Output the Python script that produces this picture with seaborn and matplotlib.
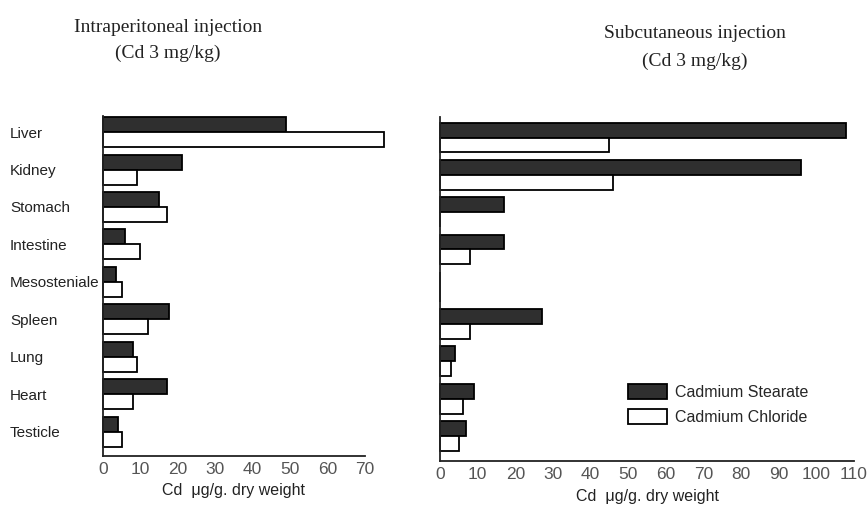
import matplotlib
matplotlib.use("Agg")
import matplotlib.pyplot as plt
import seaborn as sns
import pandas as pd

organs = ["Liver", "Kidney", "Stomach", "Intestine", "Mesosteniale",
          "Spleen", "Lung", "Heart", "Testicle"]
series = ["Cadmium Stearate", "Cadmium Chloride"]

ip_stearate = [49, 21, 15, 6, 3.5, 17.5, 8, 17, 4]
ip_chloride = [75, 9, 17, 10, 5, 12, 9, 8, 5]
sc_stearate = [108, 96, 17, 17, 0, 27, 4, 9, 7]
sc_chloride = [45, 46, 0, 8, 0, 8, 3, 6, 5]

left_ticks = [0, 10, 20, 30, 40, 50, 60, 70]
right_ticks = [0, 10, 20, 30, 40, 50, 60, 70, 80, 90, 100, 110]

left_title = ["Intraperitoneal injection", "(Cd 3 mg/kg)"]
right_title = ["Subcutaneous injection", "(Cd 3 mg/kg)"]
xlabel = "Cd  μg/g. dry weight"


def make_df(st, ch):
    return pd.DataFrame({
        "organ": organs * 2,
        "value": list(st) + list(ch),
        "series": [series[0]] * len(organs) + [series[1]] * len(organs),
    })


sns.set_theme(style="white")
sans = ["Liberation Sans", "DejaVu Sans"]
serif = ["Liberation Serif", "DejaVu Serif"]
plt.rcParams["font.family"] = sans

palette = {series[0]: "#2f2f2f", series[1]: "white"}

fig = plt.figure(figsize=(8.67, 5.05), dpi=100)
axL = fig.add_axes([103 / 867, 1 - 456 / 505, 262 / 867, (456 - 116) / 505])
axR = fig.add_axes([440 / 867, 1 - 461 / 505, 414 / 867, (461 - 117) / 505])

for ax, st, ch, ticks, ylim in [
    (axL, ip_stearate, ip_chloride, left_ticks, (8.65, -0.43)),
    (axR, sc_stearate, sc_chloride, right_ticks, (8.67, -0.55)),
]:
    sns.barplot(data=make_df(st, ch), y="organ", x="value", hue="series",
                order=organs, hue_order=series, palette=palette,
                edgecolor="black", linewidth=1.3, width=0.8,
                orient="h", ax=ax, legend=(ax is axR))
    for p in ax.patches:
        p.set_clip_on(False)
    ax.set_xlim(ticks[0], ticks[-1])
    ax.set_ylim(*ylim)
    ax.set_xticks(ticks)
    ax.set_xticklabels([str(t) for t in ticks], fontsize=12.5, color="#555555",
                       family=sans)
    ax.tick_params(axis="x", direction="in", length=5, width=1, color="#333333",
                   pad=4)
    ax.tick_params(axis="y", length=0)
    sns.despine(ax=ax)
    for s in ["left", "bottom"]:
        ax.spines[s].set_color("#222222")
        ax.spines[s].set_linewidth(1.3)
    ax.set_xlabel(xlabel, fontsize=11.5, color="#222222", labelpad=5,
                  family=sans)
    ax.set_ylabel("")

axL.set_yticks(range(len(organs)))
axL.set_yticklabels(organs, fontsize=11, color="#222222", ha="left",
                    family=sans)
axL.tick_params(axis="y", pad=67)
axR.set_yticks([])

leg = axR.legend(loc="upper left", bbox_to_anchor=(0.42, 0.265), frameon=False,
                 fontsize=11.5, handlelength=2.4, handleheight=1.0,
                 labelspacing=0.6, handletextpad=0.5)
for h in leg.legend_handles:
    h.set_edgecolor("black")
    h.set_linewidth(1.3)

for (cx, ys, lines) in [(168, (27, 53), left_title), (695, (33, 61), right_title)]:
    for y, line in zip(ys, lines):
        fig.text(cx / 867, 1 - y / 505, line, ha="center", va="center",
                 fontsize=14, family=serif, color="#222222")

fig.savefig("out.png", dpi=100)
